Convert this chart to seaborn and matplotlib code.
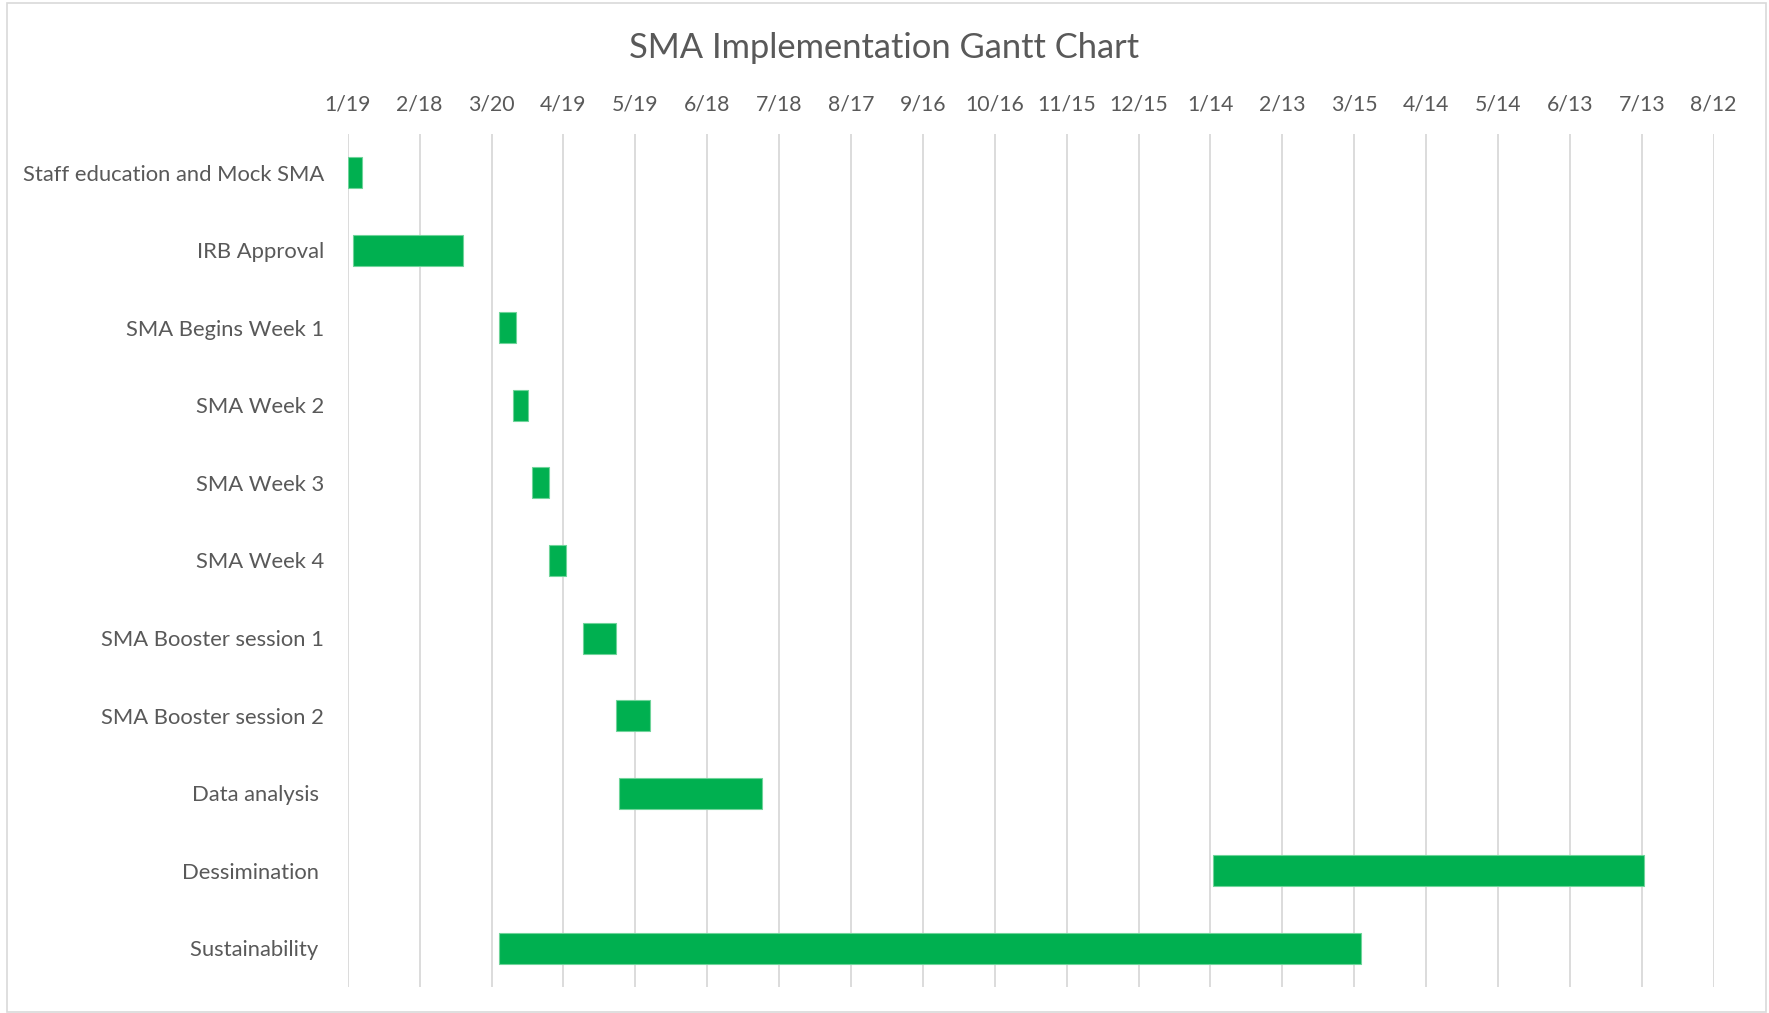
import datetime as dt
import matplotlib
matplotlib.use("Agg")
import matplotlib.pyplot as plt
import matplotlib.dates as mdates
from matplotlib.patches import Rectangle
import seaborn as sns

# Gantt data
tasks = ["Staff education and Mock SMA", "IRB Approval", "SMA Begins Week 1",
         "SMA Week 2", "SMA Week 3", "SMA Week 4", "SMA Booster session 1",
         "SMA Booster session 2", "Data analysis ", "Dessimination ", "Sustainability "]
start_dates = ["2018-01-19", "2018-01-21", "2018-03-23", "2018-03-29", "2018-04-06",
               "2018-04-13", "2018-04-27", "2018-05-11", "2018-05-12", "2019-01-15",
               "2018-03-23"]
durations = [6, 46, 7, 6, 7, 7, 14, 14, 60, 180, 360]

axis_start = "2018-01-19"
tick_step_days = 30
n_ticks = 20

grey_text = "#595959"
bar_green = "#00B050"

sns.set_theme(style="white")
plt.rcParams["font.family"] = ["Lato", "DejaVu Sans"]

starts = mdates.date2num([dt.datetime.fromisoformat(s) for s in start_dates])
t0 = dt.datetime.fromisoformat(axis_start)
ticks = mdates.date2num([t0 + dt.timedelta(days=tick_step_days * k) for k in range(n_ticks)])

fig = plt.figure(figsize=(17.69, 10.13), dpi=100)
ax = fig.add_axes([0.1966, 0.0257, 0.9687 - 0.1966, 0.8677 - 0.0257])

sns.barplot(x=durations, y=tasks, orient="h", left=starts, color=bar_green,
            width=0.4, errorbar=None, saturation=1, ax=ax,
            edgecolor="#6fd49a", linewidth=0.8)

ax.set_xlim(ticks[0], ticks[-1])
ax.set_ylim(len(tasks) - 0.5, -0.5)
ax.set_xticks(ticks)
ax.xaxis.set_major_formatter(mdates.DateFormatter("%-m/%-d"))
ax.xaxis.tick_top()
ax.tick_params(axis="x", length=0, pad=14, labelsize=15.3, labelcolor=grey_text)
ax.tick_params(axis="y", length=0, pad=17, labelsize=15.8, labelcolor=grey_text)
ax.set_xlabel("")
ax.set_ylabel("")
ax.grid(axis="x", color="#D9D9D9", linewidth=1.3)
ax.grid(axis="y", visible=False)
ax.set_axisbelow(True)
for sp in ax.spines.values():
    sp.set_visible(False)

fig.suptitle("SMA Implementation Gantt Chart", x=0.5, y=0.953, va="center",
             fontsize=24.8, color=grey_text)

fig.patches.append(Rectangle((7 / 1769, 1 / 1013), 1759 / 1769, 1009 / 1013,
                             transform=fig.transFigure, fill=False,
                             edgecolor="#D9D9D9", linewidth=1.2))

fig.savefig("out.png", dpi=100)
